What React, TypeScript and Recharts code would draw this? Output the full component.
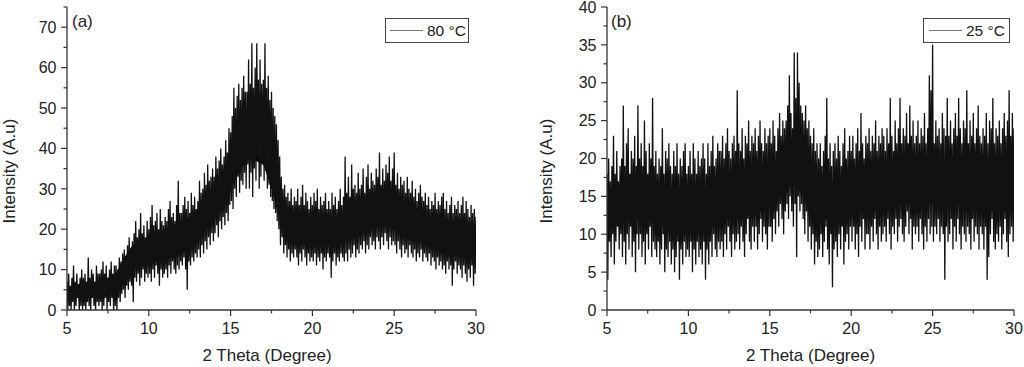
import React from 'react';
import { ComposedChart, Line, Area, XAxis, YAxis } from 'recharts';

const FONT = '"Liberation Sans", Arial, sans-serif';

// axis ticks
const thetaTicks = [5, 7.5, 10, 12.5, 15, 17.5, 20, 22.5, 25, 27.5, 30];
const intensityTicksA = [0, 5, 10, 15, 20, 25, 30, 35, 40, 45, 50, 55, 60, 65, 70, 75];
const intensityTicksB = [0, 2.5, 5, 7.5, 10, 12.5, 15, 17.5, 20, 22.5, 25, 27.5, 30, 32.5, 35, 37.5, 40];

// (a) 80 °C — dense band of the pattern, every 0.5°
const coreLoA = [
  2, 3, 3, 3, 4, 4, 5, 8, 10, 11,
  12, 12, 13, 13, 14, 15, 17, 20, 22, 25,
  30, 34, 37, 37, 36, 30, 22, 17, 16, 16,
  16, 16, 16, 16, 17, 18, 19, 20, 21, 21,
  20, 19, 18, 17, 16, 15, 14, 14, 13, 13,
  13,
];
const coreHiA = [
  5, 6, 7, 7, 7, 8, 9, 13, 16, 17,
  18, 19, 20, 21, 22, 23, 25, 28, 31, 34,
  40, 46, 50, 51, 50, 42, 30, 24, 23, 23,
  23, 22, 22, 23, 24, 25, 26, 27, 28, 27,
  27, 26, 25, 24, 23, 22, 21, 21, 20, 20,
  20,
];
// (a) spike tops every 0.1° from 5.0 (one row per degree)
const peaksA = [
  7, 9, 6, 8, 11, 7, 9, 6, 8, 10,
  8, 9, 7, 13, 8, 10, 9, 7, 11, 9,
  9, 10, 12, 9, 11, 8, 10, 12, 9, 11,
  11, 10, 13, 12, 14, 15, 13, 16, 18, 15,
  17, 19, 22, 18, 20, 24, 19, 21, 18, 22,
  20, 23, 26, 21, 22, 24, 20, 25, 22, 21,
  23, 22, 25, 27, 23, 24, 22, 26, 32, 24,
  24, 26, 28, 25, 27, 24, 29, 26, 28, 25,
  27, 32, 29, 30, 34, 31, 36, 32, 33, 35,
  33, 38, 35, 37, 40, 36, 38, 42, 39, 45,
  44, 48, 55, 50, 53, 56, 52, 55, 58, 54,
  54, 62, 56, 66, 55, 60, 66, 57, 62, 56,
  57, 66, 55, 58, 52, 54, 50, 48, 46, 42,
  38, 33, 30, 31, 28, 29, 27, 30, 26, 28,
  27, 30, 26, 28, 31, 26, 29, 27, 25, 28,
  26, 29, 27, 30, 25, 28, 26, 27, 29, 25,
  27, 25, 29, 26, 28, 25, 27, 30, 26, 28,
  38, 29, 33, 28, 36, 30, 31, 29, 34, 30,
  31, 35, 29, 33, 36, 30, 34, 32, 31, 35,
  33, 39, 31, 35, 32, 36, 34, 38, 32, 35,
  39, 31, 34, 30, 33, 31, 32, 29, 33, 30,
  29, 32, 28, 30, 27, 29, 31, 28, 27, 29,
  26, 28, 25, 27, 26, 29, 25, 27, 26, 28,
  29, 25, 27, 24, 26, 28, 24, 26, 25, 27,
  24, 26, 28, 24, 27, 25, 23, 26, 24, 25,
  23,
];
// (a) spike bottoms every 0.1° from 5.05
const dipsA = [
  0, 1, 0, 2, 0, 1, 3, 0, 1, 0,
  1, 0, 2, 1, 0, 3, 1, 0, 2, 1,
  2, 0, 1, 3, 0, 2, 1, 3, 0, 1,
  0, 3, 2, 4, 5, 3, 6, 5, 7, 6,
  2, 8, 7, 9, 6, 8, 10, 7, 9, 8,
  9, 7, 10, 8, 11, 9, 6, 10, 8, 9,
  10, 8, 11, 9, 12, 10, 9, 11, 10, 12,
  11, 13, 10, 5, 12, 11, 13, 12, 14, 13,
  15, 13, 16, 14, 17, 15, 18, 16, 19, 17,
  19, 21, 18, 22, 20, 23, 21, 24, 22, 26,
  27, 25, 30, 28, 33, 29, 32, 31, 34, 30,
  36, 30, 34, 28, 35, 32, 38, 30, 33, 36,
  32, 35, 30, 31, 28, 27, 25, 24, 22, 20,
  16, 18, 14, 16, 13, 15, 12, 14, 13, 15,
  13, 11, 14, 12, 15, 13, 11, 14, 12, 13,
  12, 14, 11, 13, 12, 14, 10, 13, 12, 14,
  13, 8, 12, 14, 11, 13, 12, 14, 13, 12,
  14, 12, 15, 13, 14, 16, 13, 15, 14, 16,
  15, 17, 14, 16, 15, 18, 16, 17, 15, 18,
  17, 15, 18, 16, 19, 17, 15, 18, 16, 17,
  16, 14, 17, 15, 13, 16, 14, 15, 13, 16,
  14, 13, 15, 12, 14, 13, 15, 12, 14, 13,
  12, 14, 11, 13, 12, 10, 13, 11, 12, 10,
  11, 9, 12, 10, 11, 6, 10, 12, 9, 11,
  10, 8, 11, 9, 7, 10, 8, 11, 6, 9,
];

// (b) 25 °C
const coreLoB = [
  11, 11, 12, 12, 12, 12, 11, 11, 10, 10,
  10, 10, 11, 11, 12, 12, 12, 12, 13, 13,
  14, 15, 16, 17, 15, 13, 12, 12, 12, 12,
  13, 13, 13, 13, 13, 14, 14, 14, 14, 14,
  14, 14, 14, 14, 13, 13, 13, 13, 13, 13,
  13,
];
const coreHiB = [
  16, 16, 17, 18, 17, 17, 16, 15, 15, 14,
  14, 15, 15, 15, 16, 16, 17, 17, 17, 18,
  19, 20, 22, 23, 21, 18, 17, 16, 17, 17,
  17, 18, 18, 18, 18, 19, 20, 20, 19, 19,
  20, 19, 19, 19, 18, 18, 18, 18, 18, 17,
  17,
];
const peaksB = [
  18, 20, 17, 19, 23, 18, 21, 17, 19, 20,
  27, 19, 22, 24, 18, 21, 20, 23, 19, 27,
  20, 22, 19, 25, 21, 18, 22, 20, 28, 19,
  21, 18, 20, 19, 24, 18, 21, 20, 22, 19,
  18, 21, 19, 22, 18, 20, 19, 21, 22, 18,
  19, 21, 18, 22, 20, 18, 21, 19, 20, 22,
  20, 18, 22, 19, 21, 23, 19, 20, 22, 21,
  21, 23, 20, 22, 24, 21, 20, 22, 23, 21,
  29, 22, 21, 24, 20, 23, 22, 25, 21, 23,
  22, 24, 21, 23, 25, 22, 21, 24, 22, 23,
  24, 22, 25, 23, 21, 24, 26, 23, 25, 24,
  25, 27, 31, 26, 24, 34, 28, 34, 30, 27,
  26, 25, 27, 24, 25, 23, 22, 24, 21, 22,
  20, 22, 19, 21, 23, 28, 20, 22, 19, 21,
  22, 20, 23, 21, 19, 22, 24, 20, 21, 23,
  21, 23, 20, 22, 24, 21, 26, 22, 20, 23,
  22, 24, 21, 23, 22, 25, 21, 23, 22, 24,
  23, 21, 24, 22, 28, 23, 21, 25, 22, 24,
  28, 22, 24, 23, 26, 22, 27, 23, 25, 22,
  23, 25, 22, 24, 23, 26, 22, 24, 31, 29,
  35, 22, 25, 23, 24, 22, 26, 24, 23, 28,
  23, 25, 22, 24, 26, 23, 28, 24, 22, 25,
  24, 29, 22, 25, 23, 26, 22, 24, 27, 23,
  22, 24, 23, 26, 22, 25, 24, 28, 22, 24,
  23, 25, 22, 24, 26, 23, 25, 29, 23, 26,
  24,
];
const dipsB = [
  4, 9, 7, 10, 6, 9, 11, 8, 10, 7,
  9, 6, 10, 8, 11, 7, 9, 5, 10, 8,
  10, 7, 9, 6, 10, 8, 11, 7, 9, 8,
  7, 9, 6, 8, 10, 5, 8, 7, 9, 6,
  8, 5, 7, 9, 4, 8, 6, 9, 7, 8,
  7, 9, 5, 8, 6, 9, 7, 8, 6, 9,
  4, 8, 6, 9, 7, 10, 8, 7, 9, 8,
  9, 7, 10, 8, 11, 9, 7, 10, 8, 9,
  10, 8, 11, 9, 7, 10, 12, 9, 8, 11,
  9, 11, 8, 10, 12, 9, 11, 10, 8, 11,
  11, 9, 12, 10, 13, 11, 14, 12, 10, 13,
  14, 12, 15, 13, 11, 14, 7, 15, 13, 14,
  12, 10, 13, 9, 11, 8, 10, 6, 9, 7,
  8, 10, 7, 9, 11, 8, 6, 10, 3, 8,
  9, 7, 10, 8, 11, 6, 9, 10, 8, 11,
  9, 11, 8, 10, 7, 11, 9, 12, 8, 10,
  10, 8, 11, 9, 12, 10, 8, 11, 9, 10,
  11, 9, 12, 10, 8, 11, 10, 12, 9, 11,
  12, 10, 9, 11, 13, 10, 12, 8, 11, 10,
  11, 9, 12, 10, 8, 11, 9, 12, 10, 11,
  9, 11, 10, 12, 9, 11, 10, 4, 11, 9,
  10, 12, 8, 11, 9, 12, 10, 8, 11, 10,
  9, 11, 10, 8, 12, 9, 11, 10, 8, 11,
  10, 8, 11, 4, 7, 10, 12, 9, 8, 10,
  9, 11, 8, 10, 12, 9, 7, 10, 11, 9,
];

const bandRows = (lo: number[], hi: number[]) =>
  lo.map((v, i) => ({ theta: 5 + i * 0.5, band: [v, hi[i]] }));

// interleave tops and bottoms into one trace
const spikeRows = (tops: number[], bottoms: number[]) => {
  const rows: { theta: number; value: number }[] = [];
  tops.forEach((t, i) => {
    rows.push({ theta: 5 + i * 0.1, value: t });
    if (i < bottoms.length) rows.push({ theta: 5.05 + i * 0.1, value: bottoms[i] });
  });
  return rows;
};

type Side = 'bottom' | 'top' | 'left' | 'right';

const makeTick = (side: Side, isMajor: (v: number) => boolean, labels: boolean) => (props: any) => {
  const { x, y, payload } = props;
  const v = payload.value;
  const major = isMajor(v);
  const len = major ? 6 : 3.5;
  const s = { stroke: '#333', strokeWidth: 1.2 };
  let line;
  let label = null;
  if (side === 'bottom') {
    line = <line x1={x} y1={y} x2={x} y2={y + len} {...s} />;
    if (labels && major)
      label = (
        <text x={x} y={y + 23.5} textAnchor="middle" fontSize={16} fontFamily={FONT} fill="#222">
          {v}
        </text>
      );
  } else if (side === 'top') {
    line = <line x1={x} y1={y} x2={x} y2={y + len} {...s} />;
  } else if (side === 'left') {
    line = <line x1={x} y1={y} x2={x - len} y2={y} {...s} />;
    if (labels && major)
      label = (
        <text x={x - 10.5} y={y + 5.7} textAnchor="end" fontSize={16} fontFamily={FONT} fill="#222">
          {v}
        </text>
      );
  } else {
    line = <line x1={x} y1={y} x2={x - len} y2={y} {...s} />;
  }
  return (
    <g>
      {line}
      {label}
    </g>
  );
};

const axisLine = { stroke: '#333', strokeWidth: 1.3 };

function Panel(p: {
  left: number;
  yWidth: number;
  right: number;
  yMax: number;
  yTicks: number[];
  yStep: number;
  band: any[];
  spikes: any[];
}) {
  const xMajor = (v: number) => v % 5 === 0;
  const yMajor = (v: number) => v % p.yStep === 0;
  return (
    <div style={{ position: 'absolute', left: p.left, top: 0 }}>
      <ComposedChart width={512} height={367} margin={{ top: 7, right: p.right, bottom: 0, left: 0 }}>
        <XAxis
          xAxisId="b"
          type="number"
          dataKey="theta"
          domain={[5, 30]}
          ticks={thetaTicks}
          interval={0}
          allowDataOverflow
          height={57}
          tickSize={0}
          tickMargin={0}
          axisLine={axisLine}
          tickLine={false}
          tick={makeTick('bottom', xMajor, true)}
        />
        <XAxis
          xAxisId="t"
          orientation="top"
          type="number"
          dataKey="theta"
          domain={[5, 30]}
          ticks={thetaTicks}
          interval={0}
          allowDataOverflow
          height={0}
          tickSize={0}
          tickMargin={0}
          axisLine={axisLine}
          tickLine={false}
          tick={makeTick('top', xMajor, false)}
        />
        <YAxis
          yAxisId="l"
          type="number"
          domain={[0, p.yMax]}
          ticks={p.yTicks}
          interval={0}
          allowDataOverflow
          width={p.yWidth}
          tickSize={0}
          tickMargin={0}
          axisLine={axisLine}
          tickLine={false}
          tick={makeTick('left', yMajor, true)}
        />
        <YAxis
          yAxisId="r"
          orientation="right"
          type="number"
          domain={[0, p.yMax]}
          ticks={p.yTicks}
          interval={0}
          allowDataOverflow
          width={0}
          tickSize={0}
          tickMargin={0}
          axisLine={axisLine}
          tickLine={false}
          tick={makeTick('right', yMajor, false)}
        />
        <Area
          xAxisId="b"
          yAxisId="l"
          data={p.band}
          dataKey="band"
          type="linear"
          stroke="none"
          fill="#000"
          fillOpacity={1}
          isAnimationActive={false}
        />
        <Line
          xAxisId="b"
          yAxisId="l"
          data={p.spikes}
          dataKey="value"
          type="linear"
          stroke="#111"
          strokeWidth={1.3}
          dot={false}
          isAnimationActive={false}
        />
      </ComposedChart>
    </div>
  );
}

const textStyle = { fontFamily: FONT, fill: '#222' };

export default function App() {
  return (
    <div style={{ position: 'absolute', left: 0, top: 0, width: 1024, height: 367, background: '#fff' }}>
      <Panel
        left={0}
        yWidth={67}
        right={36}
        yMax={75}
        yTicks={intensityTicksA}
        yStep={10}
        band={bandRows(coreLoA, coreHiA)}
        spikes={spikeRows(peaksA, dipsA)}
      />
      <Panel
        left={512}
        yWidth={95}
        right={10}
        yMax={40}
        yTicks={intensityTicksB}
        yStep={5}
        band={bandRows(coreLoB, coreHiB)}
        spikes={spikeRows(peaksB, dipsB)}
      />
      <svg width={1024} height={367} style={{ position: 'absolute', left: 0, top: 0, pointerEvents: 'none' }}>
        <text x={72} y={27} fontSize={17} {...textStyle}>(a)</text>
        <text x={611} y={27} fontSize={17} {...textStyle}>(b)</text>

        <rect x={385.5} y={18.5} width={83} height={24} fill="#fff" stroke="#444" strokeWidth={1} />
        <line x1={390} y1={30.5} x2={423} y2={30.5} stroke="#777" strokeWidth={1} />
        <text x={427} y={36} fontSize={15.5} {...textStyle}>80 °C</text>

        <rect x={923.5} y={18.5} width={86} height={24} fill="#fff" stroke="#444" strokeWidth={1} />
        <line x1={929} y1={30.5} x2={962} y2={30.5} stroke="#777" strokeWidth={1} />
        <text x={966} y={36} fontSize={15.5} {...textStyle}>25 °C</text>

        <text x={267} y={361} fontSize={17} textAnchor="middle" {...textStyle}>2 Theta (Degree)</text>
        <text x={810.5} y={361} fontSize={17} textAnchor="middle" {...textStyle}>2 Theta (Degree)</text>

        <text x={9} y={171} fontSize={17} textAnchor="middle" dominantBaseline="central" transform="rotate(-90 9 171)" {...textStyle}>
          Intensity (A.u)
        </text>
        <text x={546.5} y={171} fontSize={17} textAnchor="middle" dominantBaseline="central" transform="rotate(-90 546.5 171)" {...textStyle}>
          Intensity (A.u)
        </text>
      </svg>
    </div>
  );
}
